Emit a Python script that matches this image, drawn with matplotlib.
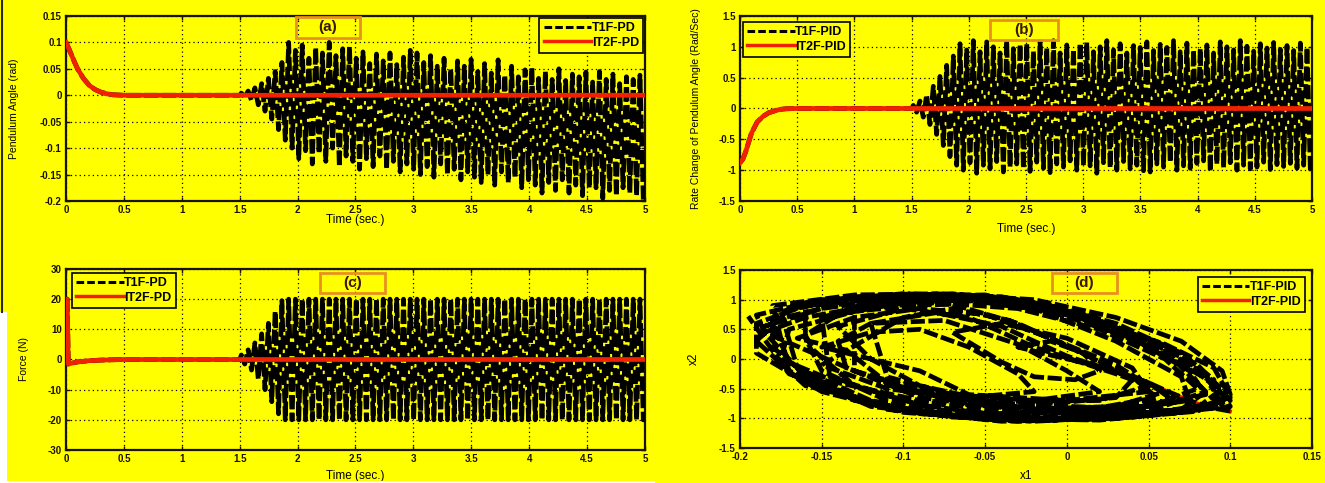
import matplotlib
matplotlib.use("Agg")
import matplotlib.pyplot as plt
from matplotlib.patches import Rectangle
from matplotlib.lines import Line2D
from matplotlib.ticker import FuncFormatter
import numpy as np

plt.rcParams["font.family"] = ["Liberation Sans", "DejaVu Sans"]
plt.rcParams["font.weight"] = "bold"
plt.rcParams["axes.unicode_minus"] = False

YELLOW = "#ffff00"
RED = "#f02000"
BOX_EDGE = "#e89020"

# ── IT2F response (shared time grid for angle and rate) ────────────────────
it2_t = [0.0, 0.025, 0.05, 0.075, 0.1, 0.15, 0.2, 0.25, 0.3, 0.35, 0.4, 0.5, 1.5]
it2_angle = [0.1, 0.088, 0.075, 0.062, 0.05, 0.032, 0.019, 0.011, 0.006, 0.003, 0.001, 0.0, 0.0]
it2_rate = [-0.88, -0.82, -0.7, -0.55, -0.4, -0.22, -0.13, -0.07, -0.04, -0.015, -0.005, 0.0, 0.0]
it2_force_t = [0.0, 0.01, 0.02, 0.05, 0.1, 0.2, 0.3, 0.5, 1.5]
it2_force = [20.0, 20.0, -1.5, -1.2, -0.8, -0.4, -0.2, 0.0, 0.0]

# ── T1F oscillation after t = 1.5 s: upper / lower extreme of each cycle ───
osc_start, osc_end, n_cycles = 1.5, 5.0, 60

angle_up = [0.004, 0.008, 0.014, 0.022, 0.032, 0.045, 0.062,
            0.1, 0.085, 0.095, 0.07, 0.09, 0.08, 0.1, 0.075, 0.088, 0.092,
            0.07, 0.082, 0.06, 0.078, 0.065, 0.08, 0.058, 0.072, 0.085,
            0.08, 0.062, 0.075, 0.055, 0.07, 0.05, 0.065, 0.055, 0.068,
            0.045, 0.06, 0.042, 0.067, 0.038, 0.055, 0.035, 0.048, 0.052,
            0.032, 0.045, 0.03, 0.05, 0.028, 0.04, 0.035, 0.044,
            0.025, 0.045, 0.03, 0.04, 0.022, 0.035, 0.03, 0.038]
angle_dn = [-0.004, -0.01, -0.018, -0.03, -0.045, -0.065, -0.085,
            -0.1, -0.12, -0.105, -0.13, -0.11, -0.125, -0.1, -0.135, -0.115, -0.125,
            -0.14, -0.12, -0.135, -0.115, -0.14, -0.125, -0.145, -0.13, -0.14,
            -0.15, -0.135, -0.155, -0.13, -0.15, -0.14, -0.16, -0.145, -0.155,
            -0.165, -0.15, -0.17, -0.145, -0.165, -0.155, -0.175, -0.16, -0.17,
            -0.185, -0.165, -0.18, -0.16, -0.185, -0.17, -0.19, -0.175,
            -0.175, -0.195, -0.18, -0.19, -0.175, -0.185, -0.19, -0.198]

rate_up = [0.05, 0.12, 0.22, 0.36, 0.52, 0.7, 0.85,
           1.05, 0.95, 1.1, 0.92, 1.08, 1.0, 0.9, 1.1, 0.97, 1.04,
           1.05, 0.93, 1.08, 0.98, 1.1, 0.9, 1.03, 0.96, 1.06,
           1.07, 0.92, 1.0, 1.1, 0.95, 1.05, 0.9, 1.02, 0.99,
           1.08, 0.94, 1.04, 0.99, 1.1, 0.92, 1.06, 0.95,
           0.97, 1.03, 0.9, 1.08, 1.0, 0.95, 1.1, 1.01,
           0.93, 1.05, 0.98, 1.07, 0.96, 1.02, 0.94, 1.06, 0.99]
rate_dn = [-0.06, -0.14, -0.26, -0.42, -0.6, -0.78, -0.92,
           -1.0, -0.88, -1.05, -0.92, -0.98, -0.86, -1.03, -0.95, -0.9, -0.97,
           -1.02, -0.87, -0.97, -1.04, -0.9, -0.95, -0.85, -1.0, -0.93,
           -0.93, -1.05, -0.88, -0.96, -1.0, -0.86, -0.98, -0.92, -1.01,
           -1.03, -0.9, -0.95, -0.87, -1.0, -0.93, -0.97, -0.89,
           -0.85, -1.02, -0.9, -0.96, -0.88, -1.0, -0.92, -0.98,
           -0.95, -0.87, -0.99, -0.91, -0.94, -0.89, -0.97, -0.92, -1.0]

force_up = [1.5, 3.2, 5.5, 8.5, 12.0, 16.0, 19.5,
            20, 20, 20, 20, 20, 20, 20, 20, 20, 20, 20,
            20, 20, 20, 20, 20, 20, 20, 20, 20, 20, 20,
            20, 20, 20, 20, 20, 20, 20, 20, 20, 20, 20,
            20, 20, 20, 20, 20, 20, 20, 20, 20, 20, 20,
            20, 20, 20, 20, 20, 20, 20, 20, 20]
force_dn = [-1.5, -3.5, -6.5, -10.0, -14.0, -18.0, -20,
            -20, -20, -20, -20, -20, -20, -20, -20, -20, -20, -20,
            -20, -20, -20, -20, -20, -20, -20, -20, -20, -20, -20,
            -20, -20, -20, -20, -20, -20, -20, -20, -20, -20, -20,
            -20, -20, -20, -20, -20, -20, -20, -20, -20, -20, -20,
            -20, -20, -20, -20, -20, -20, -20, -20, -20]

# ── T1F phase portrait (x1, x2): successive loops after the transient ──────
pp_loops = [
    [(0.0, 0.0), (-0.03, 0.2), (-0.01, 0.3), (0.01, 0.1), (0.02, -0.2), (0.005, -0.35), (-0.02, -0.3), (-0.04, -0.05)],
    [(-0.07, 0.45), (-0.04, 0.6), (0.0, 0.35), (0.04, -0.15), (0.05, -0.55), (0.0, -0.7), (-0.06, -0.6), (-0.09, -0.2)],
    [(-0.15, 0.2), (-0.12, 0.45), (-0.09, 0.5), (-0.06, 0.2), (-0.03, -0.25), (-0.02, -0.55), (-0.06, -0.65), (-0.1, -0.5), (-0.135, -0.15)],
    [(-0.14, 0.3), (-0.12, 0.6), (-0.075, 0.65), (-0.03, 0.25), (0.0, -0.2), (0.02, -0.55), (-0.02, -0.7), (-0.07, -0.6), (-0.11, -0.3)],
    [(-0.12, 0.6), (-0.08, 0.78), (-0.04, 0.55), (0.0, 0.05), (0.05, -0.4), (0.065, -0.7), (0.01, -0.85), (-0.06, -0.78), (-0.11, -0.4), (-0.135, 0.15)],
    [(-0.165, 0.35), (-0.13, 0.7), (-0.09, 0.85), (-0.05, 0.75), (-0.01, 0.35), (0.03, -0.1), (0.05, -0.45), (0.02, -0.7), (-0.05, -0.72), (-0.11, -0.5), (-0.15, -0.1)],
    [(-0.1, 0.7), (-0.07, 0.85), (-0.035, 0.65), (0.005, 0.15), (0.04, -0.3), (0.055, -0.65), (0.02, -0.82), (-0.04, -0.75), (-0.09, -0.45), (-0.12, 0.0)],
    [(-0.14, 0.55), (-0.1, 0.85), (-0.06, 0.7), (-0.02, 0.2), (0.03, -0.25), (0.06, -0.55), (0.03, -0.8), (-0.03, -0.85), (-0.09, -0.65), (-0.13, -0.2)],
    [(-0.185, 0.45), (-0.16, 0.7), (-0.12, 0.9), (-0.07, 0.92), (-0.03, 0.6), (0.01, 0.1), (0.04, -0.35), (0.03, -0.65), (-0.03, -0.8), (-0.09, -0.7), (-0.14, -0.4), (-0.175, 0.0)],
    [(-0.17, 0.5), (-0.13, 0.8), (-0.08, 0.95), (-0.03, 0.85), (0.02, 0.5), (0.06, 0.0), (0.08, -0.5), (0.05, -0.8), (-0.02, -0.85), (-0.08, -0.6), (-0.13, -0.2)],
    [(-0.13, 0.85), (-0.085, 1.0), (-0.03, 0.95), (0.02, 0.6), (0.065, 0.0), (0.085, -0.55), (0.05, -0.88), (-0.02, -0.98), (-0.08, -0.85), (-0.13, -0.45), (-0.155, 0.15)],
    [(-0.16, 0.4), (-0.14, 0.75), (-0.1, 0.95), (-0.06, 1.0), (-0.01, 0.8), (0.04, 0.35), (0.075, -0.2), (0.085, -0.6), (0.04, -0.85), (-0.03, -0.9), (-0.1, -0.7), (-0.145, -0.3)],
    [(-0.15, 0.7), (-0.12, 0.95), (-0.07, 1.02), (-0.02, 0.85), (0.03, 0.3), (0.07, -0.3), (0.075, -0.7), (0.02, -0.9), (-0.05, -0.92), (-0.11, -0.7), (-0.15, -0.2), (-0.16, 0.35)],
    [(-0.16, 0.95), (-0.1, 1.1), (-0.04, 1.05), (0.01, 0.75), (0.06, 0.2), (0.09, -0.45), (0.07, -0.85), (0.0, -1.02), (-0.07, -0.98), (-0.13, -0.7), (-0.17, -0.05), (-0.18, 0.6)],
    [(-0.185, 0.55), (-0.15, 0.85), (-0.11, 1.0), (-0.06, 1.05), (-0.01, 0.9), (0.03, 0.6), (0.07, 0.1), (0.09, -0.35), (0.09, -0.75), (0.05, -0.92), (-0.01, -1.0), (-0.07, -0.95), (-0.12, -0.7), (-0.165, -0.15)],
    [(-0.175, 0.8), (-0.13, 1.05), (-0.07, 1.1), (-0.01, 0.9), (0.04, 0.4), (0.085, -0.25), (0.095, -0.78), (0.03, -1.0), (-0.04, -1.05), (-0.11, -0.85), (-0.16, -0.3), (-0.185, 0.45)],
    [(-0.19, 0.74), (-0.15, 1.0), (-0.09, 1.08), (-0.03, 1.0), (0.03, 0.55), (0.08, -0.1), (0.1, -0.7), (0.05, -0.95), (-0.02, -1.05), (-0.09, -0.92), (-0.15, -0.5), (-0.18, 0.2)],
    [(-0.18, 0.65), (-0.14, 0.92), (-0.08, 1.05), (-0.02, 0.95), (0.02, 0.65), (0.07, 0.05), (0.095, -0.5), (0.08, -0.82), (0.02, -1.0), (-0.05, -1.02), (-0.12, -0.8), (-0.17, -0.2)],
    [(-0.18, 0.9), (-0.13, 1.08), (-0.08, 1.1), (-0.02, 1.0), (0.03, 0.7), (0.07, 0.3), (0.095, -0.2), (0.1, -0.6), (0.08, -0.88), (0.02, -1.03), (-0.05, -1.0), (-0.1, -0.85), (-0.16, -0.45), (-0.19, 0.3)],
    [(-0.17, 0.85), (-0.12, 1.05), (-0.06, 1.08), (0.0, 0.8), (0.05, 0.2), (0.09, -0.4), (0.1, -0.8), (0.04, -0.98), (-0.03, -1.05), (-0.1, -0.9), (-0.15, -0.55), (-0.19, 0.1)],
    [(-0.19, 0.6), (-0.16, 0.9), (-0.1, 1.06), (-0.05, 1.08), (0.01, 0.7), (0.06, 0.25), (0.09, -0.15), (0.1, -0.65), (0.07, -0.9), (0.01, -1.02), (-0.06, -0.98), (-0.12, -0.75), (-0.17, -0.25), (-0.195, 0.72)],
]


def t1f_series(pre_t, pre_y, up, dn):
    """Transient (shared with IT2F) followed by the cycle-by-cycle oscillation."""
    period = (osc_end - osc_start) / n_cycles
    k = np.arange(n_cycles)
    t_up = osc_start + (k + 0.25) * period
    t_dn = osc_start + (k + 0.75) * period
    t = np.column_stack([t_up, t_dn]).ravel()
    y = np.column_stack([up, dn]).ravel()
    return np.concatenate([pre_t, t, [osc_end]]), np.concatenate([pre_y, y, [dn[-1]]])


def style(ax, xlim, xticks, ylim, yticks):
    ax.set_facecolor(YELLOW)
    ax.set_xlim(xlim)
    ax.set_ylim(ylim)
    ax.set_xticks(xticks)
    ax.set_yticks(yticks)
    fmt = FuncFormatter(lambda v, p: f"{round(v, 3) + 0.0:g}")
    ax.xaxis.set_major_formatter(fmt)
    ax.yaxis.set_major_formatter(fmt)
    ax.grid(True, color="black", linestyle=(0, (1, 2.5)), linewidth=0.9)
    ax.tick_params(direction="in", top=True, right=True, labelsize=7,
                   length=3, width=1.0, pad=3, colors="#1a1200")
    for s in ax.spines.values():
        s.set_linewidth(1.6)
        s.set_color("#1a1200")


def tag(ax, text, x0, x1, y0, y1):
    ax.add_patch(Rectangle((x0, y0), x1 - x0, y1 - y0, transform=ax.transAxes,
                           facecolor="none", edgecolor=BOX_EDGE, lw=2.0,
                           clip_on=False, zorder=6))
    ax.text((x0 + x1) / 2, (y0 + y1) / 2, text, transform=ax.transAxes,
            ha="center", va="center", fontsize=11, color="#3a1800", zorder=7)


def legend(ax, labels, loc, anchor):
    handles = [Line2D([], [], color="black", lw=2.2, dashes=(2.5, 1.0)),
               Line2D([], [], color=RED, lw=2.5)]
    lg = ax.legend(handles, labels, loc=loc, bbox_to_anchor=anchor,
                   borderaxespad=0, fontsize=9, handlelength=3.8,
                   handletextpad=0.05, labelspacing=0.2, borderpad=0.35,
                   fancybox=False, framealpha=1, facecolor=YELLOW,
                   edgecolor="black")
    lg.get_frame().set_linewidth(1.2)
    lg.set_zorder(8)


fig = plt.figure(figsize=(13.25, 4.83), dpi=100)
fig.patch.set_facecolor(YELLOW)

ax_a = fig.add_axes([0.0498, 0.5839, 0.437, 0.383])
ax_b = fig.add_axes([0.5585, 0.5839, 0.4317, 0.383])
ax_c = fig.add_axes([0.0498, 0.0683, 0.437, 0.3748])
ax_d = fig.add_axes([0.5585, 0.0725, 0.4317, 0.3685])

time_ticks = np.arange(0, 5.01, 0.5)
line_kw = dict(color="black", lw=3.4, dashes=(3.0, 0.75), zorder=3)
red_kw = dict(color=RED, lw=3.4, zorder=4)

# (a) pendulum angle
t, y = t1f_series(it2_t, it2_angle, angle_up, angle_dn)
ax_a.plot(t, y, **line_kw)
ax_a.plot(it2_t + [osc_end], it2_angle + [0.0], **red_kw)
style(ax_a, (0, 5), time_ticks, (-0.2, 0.15), np.arange(-0.2, 0.151, 0.05))
ax_a.set_ylabel("Pendulum Angle (rad)", fontsize=7.5)
ax_a.yaxis.set_label_coords(-0.082, 0.5)
ax_a.set_xlabel("Time (sec.)", fontsize=8.5)
ax_a.xaxis.set_label_coords(0.5, -0.07)
legend(ax_a, ["T1F-PD", "IT2F-PD"], "upper right", (0.997, 0.99))
tag(ax_a, "(a)", 0.397, 0.508, 0.881, 0.995)

# (b) rate of change of pendulum angle
t, y = t1f_series(it2_t, it2_rate, rate_up, rate_dn)
ax_b.plot(t, y, **line_kw)
ax_b.plot(it2_t + [osc_end], it2_rate + [0.0], **red_kw)
style(ax_b, (0, 5), time_ticks, (-1.5, 1.5), np.arange(-1.5, 1.51, 0.5))
ax_b.set_ylabel("Rate Change of Pendulum Angle (Rad/Sec)", fontsize=7.5)
ax_b.yaxis.set_label_coords(-0.068, 0.5)
ax_b.set_xlabel("Time (sec.)", fontsize=8.5)
ax_b.xaxis.set_label_coords(0.5, -0.12)
legend(ax_b, ["T1F-PID", "IT2F-PID"], "upper left", (0.005, 0.968))
tag(ax_b, "(b)", 0.437, 0.556, 0.87, 0.978)

# (c) control force
t, y = t1f_series(it2_force_t, it2_force, force_up, force_dn)
ax_c.plot(t, y, **line_kw)
ax_c.plot(it2_force_t + [osc_end], it2_force + [0.0], **red_kw)
style(ax_c, (0, 5), time_ticks, (-30, 30), np.arange(-30, 31, 10))
ax_c.set_ylabel("Force (N)", fontsize=7.5)
ax_c.yaxis.set_label_coords(-0.064, 0.5)
ax_c.set_xlabel("Time (sec.)", fontsize=8.5)
ax_c.xaxis.set_label_coords(0.5, -0.11)
legend(ax_c, ["T1F-PD", "IT2F-PD"], "upper left", (0.01, 0.978))
tag(ax_c, "(c)", 0.439, 0.551, 0.867, 0.978)

# (d) phase portrait x1 (angle) vs x2 (rate); IT2F path sits under the loops
pp = np.array([p for loop in pp_loops for p in loop])
x1 = np.concatenate([it2_angle, pp[:, 0]])
x2 = np.concatenate([it2_rate, pp[:, 1]])
ax_d.plot(x1, x2, **line_kw)
ax_d.plot(it2_angle, it2_rate, color=RED, lw=2.4, zorder=2)
style(ax_d, (-0.2, 0.15), np.arange(-0.2, 0.151, 0.05), (-1.5, 1.5), np.arange(-1.5, 1.51, 0.5))
ax_d.set_ylabel("x2", fontsize=8.5)
ax_d.yaxis.set_label_coords(-0.07, 0.5)
ax_d.set_xlabel("x1", fontsize=8.5)
ax_d.xaxis.set_label_coords(0.5, -0.125)
legend(ax_d, ["T1F-PID", "IT2F-PID"], "upper right", (0.988, 0.961))
tag(ax_d, "(d)", 0.545, 0.659, 0.871, 0.983)

# scan border along the left and bottom edge
fig.patches.append(Rectangle((0, 0), 7 / 1325, 171 / 483, transform=fig.transFigure,
                             facecolor="white", edgecolor="none", zorder=0))
fig.patches.append(Rectangle((0, 0), 655 / 1325, 2 / 483, transform=fig.transFigure,
                             facecolor="white", edgecolor="none", zorder=0))
fig.add_artist(Line2D([1.5 / 1325, 1.5 / 1325], [1 - 312 / 483, 1],
                      transform=fig.transFigure, color="#2a2a2a", lw=1.5))

fig.savefig("out.png", dpi=100, facecolor=fig.get_facecolor())
